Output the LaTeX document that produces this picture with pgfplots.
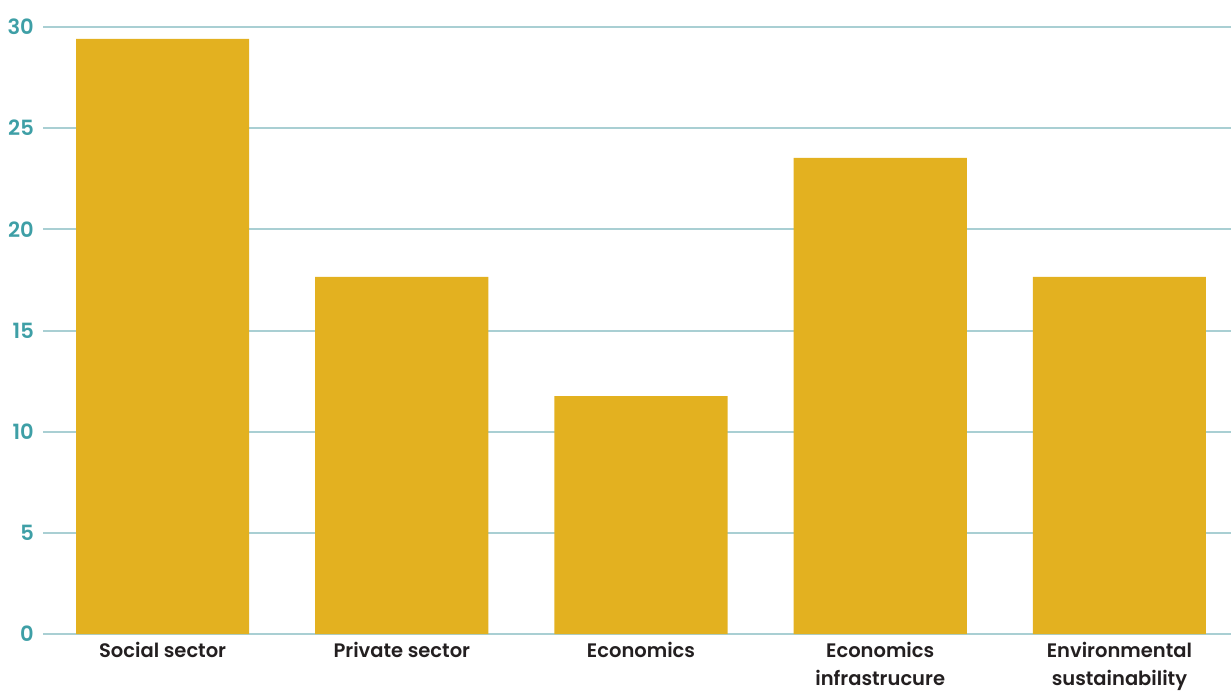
\documentclass[border=0pt]{standalone}
\usepackage{fontspec}
\setmainfont{Poppins}[UprightFont={* Medium}]
\newfontfamily\semib{Poppins}[UprightFont={* SemiBold}]
\usepackage{pgfplots}
\pgfplotsset{compat=1.18}
\definecolor{barc}{HTML}{E3B120}
\definecolor{gridc}{HTML}{A9CFD3}
\definecolor{tickc}{HTML}{3E9FA6}
\definecolor{labc}{HTML}{231F20}
\begin{document}
\begin{tikzpicture}
\begin{axis}[name=ax, scale only axis, width=1188pt, height=607pt,
  xmin=-0.5, xmax=4.4665, ymin=0, ymax=30,
  ytick={0,5,...,30}, xtick={0,1,2,3,4},
  xticklabels={Social sector,Private sector,Economics,Economics\\infrastrucure,Environmental\\sustainability},
  axis line style={draw=none}, major tick length=0pt,
  ymajorgrids, grid style={draw=gridc, line width=2pt},
  /pgf/number format/assume math mode=true,
  yticklabel style={font=\semib\fontsize{21}{24}\selectfont, text=tickc, anchor=east, inner sep=0pt, xshift=-9pt},
  xticklabel style={font=\semib\fontsize{19.5}{28}\selectfont, text=labc, anchor=north, inner sep=0pt, yshift=-8pt, align=center},
  ybar, bar width=0.7238, bar shift=0pt,
  clip=false]
\addplot[fill=barc, draw=none] coordinates {(0,29.41) (1,17.65) (2,11.76) (3,23.53) (4,17.65)};
\end{axis}
\pgfresetboundingbox
\path[use as bounding box] ([xshift=-43pt,yshift=-56pt]ax.south west) rectangle ([yshift=27pt]ax.north east);
\end{tikzpicture}
\end{document}
